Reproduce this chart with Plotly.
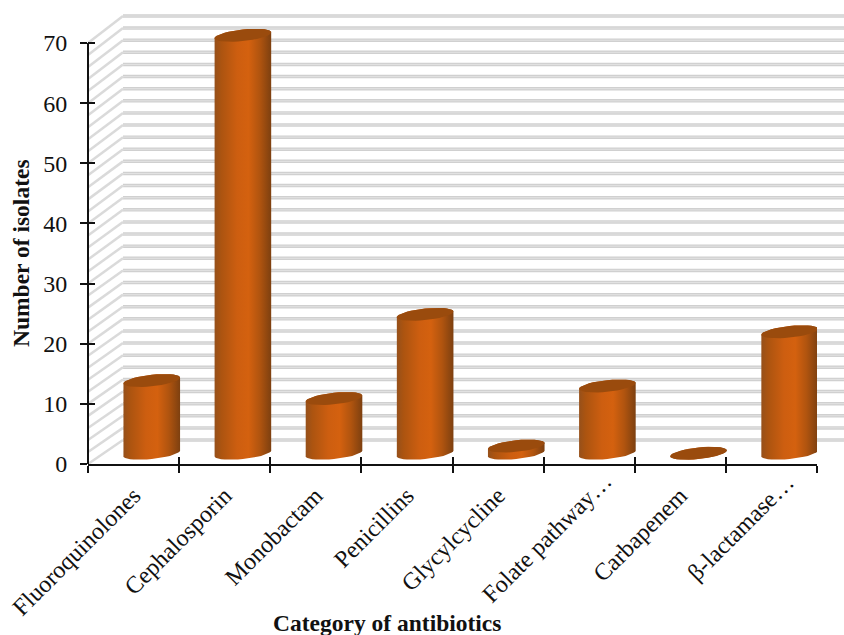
import math
import plotly.graph_objects as go

categories = ["Fluoroquinolones", "Cephalosporin", "Monobactam", "Penicillins",
              "Glycylcycline", "Folate pathway…", "Carbapenem", "β-lactamase…"]
isolates = [12.1, 69.5, 9.1, 23.1, 1.2, 11.2, 0, 20.2]
y_ticks = [0, 10, 20, 30, 40, 50, 60, 70]
wall_levels = list(range(0, 71, 2))

W, H = 844, 635
L, R, T, B = 88, 817, 25, 464
PW, PH = R - L, B - T
CAT_PX = PW / 8
UNIT_PX = 421 / 70
Y_TOP = PH / UNIT_PX

# projection of the 3-D look, in axis units
SHIFT = 18.2 / CAT_PX       # cylinders sit behind the front plane
RADIUS = 28.3 / CAT_PX
FLOOR = (464 - 453.3) / UNIT_PX
TILT = 2.9 / UNIT_PX
ELL = 5.8 / UNIT_PX

FONT = "Liberation Serif"
INK = "#111111"
CAP = "#9a4b0d"
SHADE = [[0, "#96501a"], [0.12, "#ac5410"], [0.4, "#cd5e10"], [0.6, "#d4610f"],
         [0.8, "#b0540f"], [1, "#7d4010"]]

fig = go.Figure()

# core bar from the data, wrapped by the shaded cylinder wall drawn over it
fig.add_bar(
    x=categories, y=isolates, base=FLOOR,
    offset=SHIFT - RADIUS * 0.7, width=RADIUS * 1.4,
    marker=dict(color="#cd5e10", line=dict(width=0)),
    cliponaxis=False, showlegend=False,
)

for i, v in enumerate(isolates):
    xs, ys = [], []
    for d in range(180, 361, 10):          # lower rim
        a = math.radians(d)
        xs.append(i + SHIFT + RADIUS * math.cos(a))
        ys.append(FLOOR + TILT * math.cos(a) + ELL * math.sin(a))
    for d in range(0, 181, 10):            # upper rim hidden under the cap
        a = math.radians(d)
        xs.append(i + SHIFT + RADIUS * math.cos(a))
        ys.append(v + FLOOR + TILT * math.cos(a) + ELL * math.sin(a))
    fig.add_scatter(
        x=xs, y=ys, mode="lines", fill="toself",
        fillgradient=dict(type="horizontal", colorscale=SHADE),
        line=dict(width=0), xaxis="x2", yaxis="y2",
        cliponaxis=False, showlegend=False, hoverinfo="skip",
    )

cap_x, cap_y = [], []
for i, v in enumerate(isolates):
    for d in range(0, 361, 10):
        a = math.radians(d)
        cap_x.append(i + SHIFT + RADIUS * math.cos(a))
        cap_y.append(v + FLOOR + TILT * math.cos(a) + ELL * math.sin(a))
    cap_x.append(None)
    cap_y.append(None)
fig.add_scatter(
    x=cap_x, y=cap_y, mode="lines", fill="toself", fillcolor=CAP,
    line=dict(width=0, color=CAP), xaxis="x2", yaxis="y2",
    cliponaxis=False, showlegend=False, hoverinfo="skip",
)


def to_paper_y(v):
    return v / Y_TOP


# back wall and side wall rules
shapes = []
for lv in wall_levels:
    py = to_paper_y(lv)
    back = (24 + lv * 424 / 70) / PH
    shapes.append(dict(type="line", xref="paper", yref="paper", layer="below",
                       x0=35 / PW, x1=(W - L) / PW, y0=back, y1=back,
                       line=dict(color="#d0d0d0", width=3.5)))
    shapes.append(dict(type="line", xref="paper", yref="paper", layer="below",
                       x0=35 / PW, x1=(W - L) / PW, y0=back, y1=back,
                       line=dict(color="#e2e2e2", width=1)))
    shapes.append(dict(type="line", xref="paper", yref="paper", layer="below",
                       x0=0, x1=35 / PW, y0=py, y1=back,
                       line=dict(color="#dadada", width=2.5)))
# value axis line stops at the last tick
shapes.append(dict(type="line", xref="paper", yref="paper", layer="above",
                   x0=0, x1=0, y0=0, y1=to_paper_y(70),
                   line=dict(color=INK, width=2)))


def note(text, px, py, size=24, angle=0, bold=False):
    return dict(text=f"<b>{text}</b>" if bold else text, xref="paper", yref="paper",
                x=(px - L) / PW, y=(B - py) / PH, xanchor="center", yanchor="middle",
                showarrow=False, textangle=angle,
                font=dict(family=FONT, size=size, color=INK))


fig.update_layout(
    width=W, height=H, autosize=False,
    margin=dict(l=L, r=W - R, t=T, b=H - B, autoexpand=False),
    paper_bgcolor="white", plot_bgcolor="rgba(0,0,0,0)",
    barmode="overlay", showlegend=False,
    shapes=shapes,
    xaxis=dict(type="category", categoryorder="array", categoryarray=categories,
               range=[-0.5, 7.5], tickson="boundaries", ticks="outside", ticklen=7,
               tickwidth=2, tickcolor=INK, showline=True, linecolor=INK, linewidth=2,
               showgrid=False, zeroline=False, tickangle=-45, ticklabelstandoff=6,
               labelalias={"Folate pathway…": " ", "β-lactamase…": " "},
               tickfont=dict(family=FONT, size=24, color=INK)),
    yaxis=dict(range=[0, Y_TOP], tickmode="array", tickvals=y_ticks, ticks="outside",
               ticklen=7, tickwidth=2, tickcolor=INK, showline=False,
               showgrid=False, zeroline=False, ticklabelstandoff=8,
               tickfont=dict(family=FONT, size=24, color=INK)),
    xaxis2=dict(overlaying="x", range=[-0.5, 7.5], side="bottom",
                tickmode="array", tickvals=[i - 0.5 for i in range(9)],
                ticks="inside", ticklen=7, tickwidth=2, tickcolor=INK,
                showticklabels=False, showgrid=False, zeroline=False),
    yaxis2=dict(overlaying="y", range=[0, Y_TOP], side="left",
                tickmode="array", tickvals=y_ticks,
                ticks="inside", ticklen=7, tickwidth=2, tickcolor=INK,
                showticklabels=False, showgrid=False, zeroline=False),
    annotations=[
        note("Category of antibiotics", 387, 623, 23.5, bold=True),
        note("Number of isolates", 21, 253, 23.5, angle=-90, bold=True),
        note(categories[5], 546.5, 537.5, angle=-45),
        note(categories[7], 740, 527.5, angle=-45),
    ],
)

fig.write_html("out.html", config={"displayModeBar": False},
               post_script="document.body.style.margin='0';")
